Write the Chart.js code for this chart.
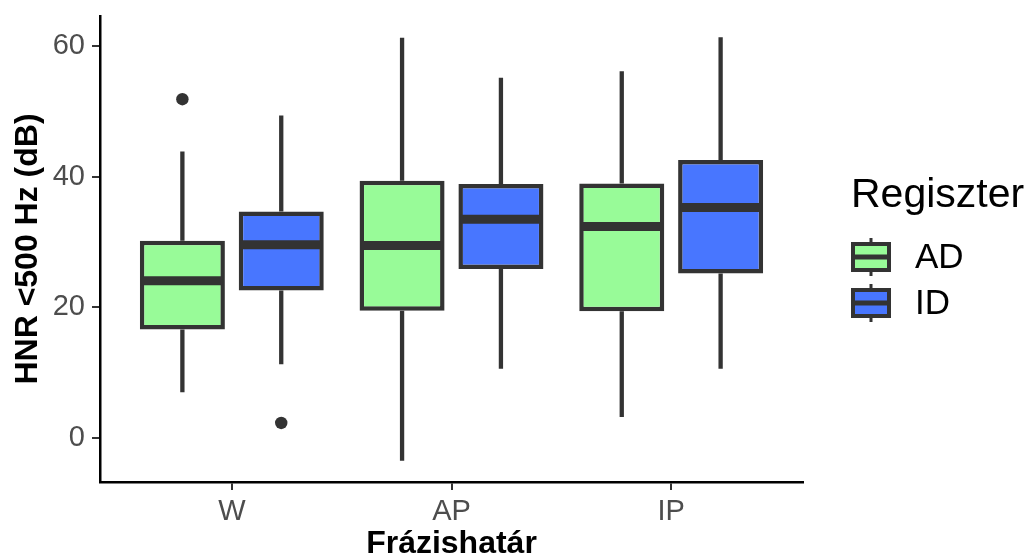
<!DOCTYPE html>
<html>
<head>
<meta charset="utf-8">
<script src="https://cdn.jsdelivr.net/npm/chart.js@4"></script>
<style>
  html, body { margin: 0; padding: 0; background: #ffffff; }
</style>
</head>
<body>
<canvas id="hnrChart" width="1030" height="558"></canvas>
<script>
// categories and groups
const categories = ['W', 'AP', 'IP'];
const groupNames = ['AD', 'ID'];
const groupColors = ['#98FB98', '#4876FF'];

// AD boxplot stats per category
const adLow = [7.0, -3.5, 3.2];
const adQ1 = [16.6, 19.5, 19.4];
const adMedian = [24.1, 29.5, 32.4];
const adQ3 = [30.2, 39.4, 39.0];
const adHigh = [43.9, 61.3, 56.2];
const adOutliers = [[51.9], [], []];

// ID boxplot stats per category
const idLow = [11.3, 10.6, 10.6];
const idQ1 = [22.6, 25.9, 25.2];
const idMedian = [29.6, 33.5, 35.3];
const idQ3 = [34.7, 38.9, 42.6];
const idHigh = [49.4, 55.2, 61.4];
const idOutliers = [[2.3], [], []];

const yTicks = [0, 20, 40, 60];

const stats = [
  { low: adLow, q1: adQ1, median: adMedian, q3: adQ3, high: adHigh, outliers: adOutliers },
  { low: idLow, q1: idQ1, median: idMedian, q3: idQ3, high: idHigh, outliers: idOutliers }
];

const FONT = "'Liberation Sans', Arial, sans-serif";
const DARK = '#333333';

Chart.defaults.font.family = FONT;
Chart.defaults.color = '#4D4D4D';

// whiskers behind the boxes, medians and outliers on top
const boxPlotPlugin = {
  id: 'boxPlot',
  beforeDatasetsDraw(chart) {
    const ctx = chart.ctx;
    const y = chart.scales.y;
    ctx.save();
    ctx.strokeStyle = DARK;
    ctx.lineWidth = 4.3;
    ctx.lineCap = 'butt';
    stats.forEach((s, d) => {
      chart.getDatasetMeta(d).data.forEach((bar, i) => {
        ctx.beginPath();
        ctx.moveTo(bar.x, y.getPixelForValue(s.high[i]));
        ctx.lineTo(bar.x, y.getPixelForValue(s.q3[i]));
        ctx.moveTo(bar.x, y.getPixelForValue(s.q1[i]));
        ctx.lineTo(bar.x, y.getPixelForValue(s.low[i]));
        ctx.stroke();
      });
    });
    ctx.restore();
  },
  afterDatasetsDraw(chart) {
    const ctx = chart.ctx;
    const y = chart.scales.y;
    ctx.save();
    stats.forEach((s, d) => {
      chart.getDatasetMeta(d).data.forEach((bar, i) => {
        const half = bar.width / 2;
        const my = y.getPixelForValue(s.median[i]);
        ctx.strokeStyle = DARK;
        ctx.lineWidth = 9;
        ctx.beginPath();
        ctx.moveTo(bar.x - half + 2, my);
        ctx.lineTo(bar.x + half - 2, my);
        ctx.stroke();
        ctx.fillStyle = DARK;
        s.outliers[i].forEach(v => {
          ctx.beginPath();
          ctx.arc(bar.x, y.getPixelForValue(v), 6.2, 0, Math.PI * 2);
          ctx.fill();
        });
      });
    });
    ctx.restore();
  }
};

// legend drawn as ggplot-like boxplot keys
const legendPlugin = {
  id: 'boxLegend',
  afterDraw(chart) {
    const ctx = chart.ctx;
    const area = chart.chartArea;
    const left = area.right + 48;
    const mid = (area.top + area.bottom) / 2;
    ctx.save();
    ctx.fillStyle = '#000000';
    ctx.textBaseline = 'alphabetic';
    ctx.textAlign = 'left';
    ctx.font = '41px ' + FONT;
    ctx.fillText('Regiszter', left, mid - 42);
    groupNames.forEach((name, k) => {
      const cy = mid + 8 + k * 46;
      // whisker stub
      ctx.strokeStyle = DARK;
      ctx.lineWidth = 3;
      ctx.beginPath();
      ctx.moveTo(left + 20, cy - 19);
      ctx.lineTo(left + 20, cy + 19);
      ctx.stroke();
      // box
      ctx.fillStyle = groupColors[k];
      ctx.fillRect(left + 2, cy - 13, 36, 26);
      ctx.lineWidth = 4;
      ctx.strokeRect(left + 2, cy - 13, 36, 26);
      // median
      ctx.lineWidth = 5;
      ctx.beginPath();
      ctx.moveTo(left + 2, cy);
      ctx.lineTo(left + 38, cy);
      ctx.stroke();
      // label
      ctx.fillStyle = '#000000';
      ctx.textBaseline = 'middle';
      ctx.font = '35px ' + FONT;
      ctx.fillText(name, left + 64, cy + 1);
    });
    ctx.restore();
  }
};

const axisGrid = {
  display: true,
  drawOnChartArea: false,
  drawTicks: true,
  offset: false,
  tickLength: 8,
  color: DARK,
  lineWidth: 2
};
const axisBorder = { display: true, color: '#000000', width: 2.5 };

new Chart(document.getElementById('hnrChart'), {
  type: 'bar',
  data: {
    datasets: stats.map((s, d) => ({
      label: groupNames[d],
      data: categories.map((c, i) => ({ x: i + 1, y: [s.q1[i], s.q3[i]] })),
      backgroundColor: groupColors[d],
      borderColor: DARK,
      borderWidth: 4.5,
      borderSkipped: false,
      categoryPercentage: 0.9,
      barPercentage: 0.86
    }))
  },
  options: {
    responsive: false,
    animation: false,
    devicePixelRatio: 1,
    layout: { padding: { left: 0, top: 16, right: 227, bottom: 0 } },
    plugins: {
      legend: { display: false },
      tooltip: { enabled: false }
    },
    scales: {
      x: {
        type: 'linear',
        offset: false,
        min: 0.4,
        max: 3.6,
        afterBuildTicks: s => { s.ticks = categories.map((c, i) => ({ value: i + 1 })); },
        afterFit: s => { s.height = 76; s.paddingLeft = 0; s.paddingRight = 0; },
        ticks: {
          callback: v => categories[v - 1],
          font: { size: 29 },
          color: '#4D4D4D',
          padding: 5,
          autoSkip: false,
          maxRotation: 0
        },
        grid: axisGrid,
        border: axisBorder,
        title: {
          display: true,
          text: 'Frázishatár',
          color: '#000000',
          font: { size: 32, weight: 'bold' },
          padding: { top: 0, bottom: -5 }
        }
      },
      y: {
        min: -6.75,
        max: 64.65,
        afterBuildTicks: s => { s.ticks = yTicks.map(v => ({ value: v })); },
        afterFit: s => { s.width = 100; s.paddingTop = 0; s.paddingBottom = 0; },
        ticks: { font: { size: 29 }, color: '#4D4D4D', padding: 7 },
        grid: axisGrid,
        border: axisBorder,
        title: {
          display: true,
          text: 'HNR <500 Hz (dB)',
          color: '#000000',
          font: { size: 32, weight: 'bold' },
          padding: { top: 9, bottom: 0 }
        }
      }
    }
  },
  plugins: [boxPlotPlugin, legendPlugin]
});
</script>
</body>
</html>
